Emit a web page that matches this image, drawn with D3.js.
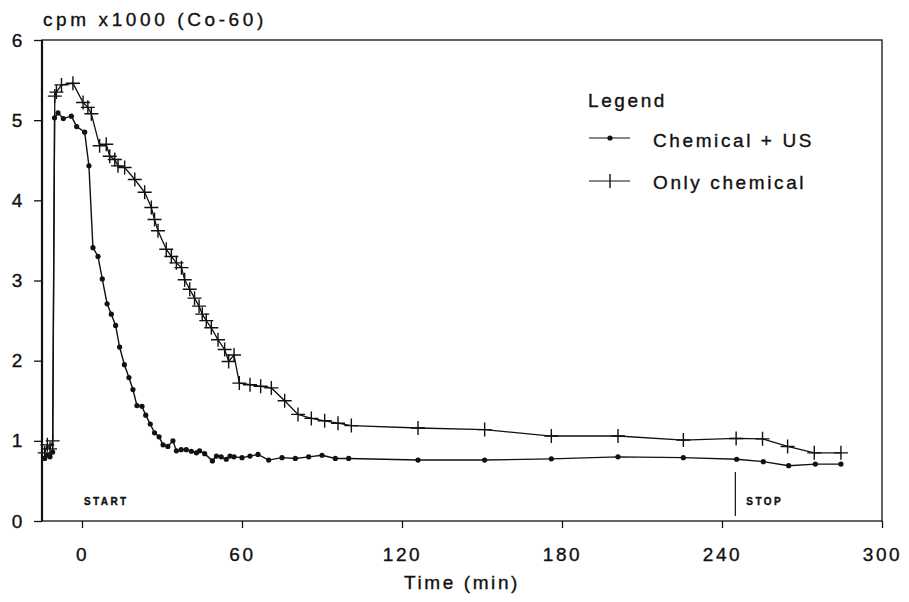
<!DOCTYPE html>
<html>
<head>
<meta charset="utf-8">
<script src="https://cdn.jsdelivr.net/npm/d3@7"></script>
<style>
  body { margin: 0; background: #fff; }
  svg text { font-family: "Liberation Sans", Arial, sans-serif; fill: #111; stroke: #111; stroke-width: 0.35px; }
</style>
</head>
<body>
<svg width="909" height="602"></svg>
<script>
// chemical + ultrasound (dots)
var timeUS = [-14, -13, -12, -11, -10.3, -9, -7, -4, -2, 1, 2.6, 4.1, 6, 7.6, 9.4, 11, 12.6, 14.1, 15.9, 17.6,
  19.1, 20.6, 22.5, 23.9, 25.6, 27.2, 28.9, 30.4, 32.2, 34.1, 35.4, 37.2, 39.1, 41, 42.9, 44.1, 46, 48.9, 50.4,
  52.2, 54.1, 55.5, 57, 60, 63, 66, 70, 75, 80, 85, 90, 95, 100, 126, 151, 176, 201, 225.5, 245.5, 255.5, 265,
  275, 284.6];
var cpmUS = [0.78, 0.82, 0.80, 0.86, 5.03, 5.09, 5.02, 5.05, 4.92, 4.85, 4.43, 3.41, 3.30, 3.02, 2.71, 2.58, 2.44,
  2.17, 1.95, 1.79, 1.64, 1.44, 1.43, 1.32, 1.21, 1.10, 1.05, 0.95, 0.93, 1.0, 0.875, 0.89, 0.89, 0.87, 0.85,
  0.875, 0.84, 0.75, 0.81, 0.80, 0.77, 0.81, 0.80, 0.79, 0.81, 0.83, 0.76, 0.79, 0.78, 0.80, 0.82, 0.78, 0.78,
  0.76, 0.76, 0.775, 0.80, 0.79, 0.77, 0.74, 0.69, 0.71, 0.71];

// only chemical (plus marks)
var timeChem = [-14, -13, -12, -11, -10.2, -9.6, -7.7, -3.4, 0.4, 2.2, 3.5, 6.6, 9.1, 10.4, 12.3, 13.5, 16, 19.8,
  23.5, 26, 27.2, 28.5, 31.6, 33.5, 35.4, 37.3, 38.5, 40.4, 42.2, 43.9, 45.1, 46.6, 48.5, 51, 53.5, 55, 57, 59,
  63, 67, 71, 76, 81, 86, 91, 96, 101, 126, 151, 176, 201, 225.5, 245.3, 255.2, 264.6, 274.6, 284.6];
var cpmChem = [0.85, 0.95, 0.90, 1.0, 5.30, 5.35, 5.44, 5.46, 5.22, 5.16, 5.08, 4.68, 4.70, 4.55, 4.51, 4.43, 4.41,
  4.26, 4.10, 3.91, 3.76, 3.62, 3.39, 3.30, 3.22, 3.16, 3.01, 2.89, 2.78, 2.68, 2.58, 2.50, 2.41, 2.26, 2.14,
  1.99, 2.07, 1.72, 1.70, 1.68, 1.66, 1.50, 1.33, 1.28, 1.25, 1.22, 1.19, 1.16, 1.14, 1.06, 1.06, 1.01, 1.03,
  1.025, 0.93, 0.85, 0.85];

var xTicks = [0, 60, 120, 180, 240, 300];
var yTicks = [0, 1, 2, 3, 4, 5, 6];
var seriesNames = ['Chemical + US', 'Only chemical'];
var stopTime = 245;

var svg = d3.select('svg');
var x = d3.scaleLinear().domain([-15, 300]).range([42, 882]);
var y = d3.scaleLinear().domain([0, 6]).range([521, 40]);

// axes
svg.append('g')
  .attr('transform', 'translate(42,0)')
  .call(d3.axisLeft(y).tickValues(yTicks).tickFormat(d3.format('d')).tickSize(8).tickPadding(9));
svg.append('g')
  .attr('transform', 'translate(0,521)')
  .call(d3.axisBottom(x).tickValues(xTicks).tickFormat(d3.format('d')).tickSize(7).tickPadding(20));
svg.selectAll('.domain').remove();
svg.selectAll('.tick line').attr('stroke', '#111').attr('stroke-width', 1.3);
svg.selectAll('.tick text')
  .style('font-size', '19px')
  .style('letter-spacing', '2.6px')
  .attr('fill', '#111');

// frame
svg.append('rect')
  .attr('x', x(-15)).attr('y', y(6))
  .attr('width', x(300) - x(-15)).attr('height', y(0) - y(6))
  .attr('fill', 'none').attr('stroke', '#111').attr('stroke-width', 1.3);
svg.append('line')
  .attr('x1', x(-15)).attr('x2', x(-15)).attr('y1', y(6)).attr('y2', y(0))
  .attr('stroke', '#111').attr('stroke-width', 2.2);

// titles
svg.append('text').attr('x', 43).attr('y', 26)
  .style('font-size', '19px').style('letter-spacing', '3.6px')
  .text('cpm x1000 (Co-60)');
svg.append('text').attr('x', 462).attr('y', 589).attr('text-anchor', 'middle')
  .style('font-size', '19px').style('letter-spacing', '2.6px')
  .text('Time (min)');

// start / stop
svg.append('text').attr('x', 84).attr('y', 505)
  .style('font-size', '10px').style('font-weight', 'bold').style('letter-spacing', '2.4px')
  .text('START');
svg.append('line')
  .attr('x1', x(stopTime)).attr('x2', x(stopTime)).attr('y1', 472).attr('y2', 516)
  .attr('stroke', '#111').attr('stroke-width', 1.2);
svg.append('text').attr('x', x(stopTime) + 11).attr('y', 505)
  .style('font-size', '10px').style('font-weight', 'bold').style('letter-spacing', '2.4px')
  .text('STOP');

var line = d3.line()
  .x(function(d) { return x(d.t); })
  .y(function(d) { return y(d.v); });

var usData = timeUS.map(function(t, i) { return { t: t, v: cpmUS[i] }; });
var chemData = timeChem.map(function(t, i) { return { t: t, v: cpmChem[i] }; });

svg.append('path').datum(chemData)
  .attr('d', line).attr('fill', 'none').attr('stroke', '#111').attr('stroke-width', 1.3);
svg.append('path').datum(usData)
  .attr('d', line).attr('fill', 'none').attr('stroke', '#111').attr('stroke-width', 1.4);

// plus marks
var plus = function (sel, px, py) {
  sel.append('path')
    .attr('d', 'M' + (px - 7) + ',' + py + 'H' + (px + 7) + 'M' + px + ',' + (py - 7) + 'V' + (py + 7))
    .attr('stroke', '#111').attr('stroke-width', 1.4).attr('fill', 'none');
};
var plusG = svg.append('g');
chemData.forEach(function(d) { plus(plusG, x(d.t), y(d.v)); });

svg.append('g').selectAll('circle')
  .data(usData)
  .enter()
  .append('circle')
  .attr('cx', function(d) { return x(d.t); })
  .attr('cy', function(d) { return y(d.v); })
  .attr('r', 2.6)
  .attr('fill', '#111');

// legend
svg.append('text').attr('x', 588).attr('y', 107)
  .style('font-size', '19px').style('letter-spacing', '2.6px').text('Legend');
svg.append('line').attr('x1', 589).attr('x2', 630).attr('y1', 138).attr('y2', 138)
  .attr('stroke', '#111').attr('stroke-width', 1.2);
svg.append('circle').attr('cx', 610).attr('cy', 138).attr('r', 2.6).attr('fill', '#111');
svg.append('text').attr('x', 653).attr('y', 147)
  .style('font-size', '19px').style('letter-spacing', '2.6px').text(seriesNames[0]);
svg.append('line').attr('x1', 589).attr('x2', 630).attr('y1', 181).attr('y2', 181)
  .attr('stroke', '#111').attr('stroke-width', 1.2);
svg.append('path').attr('d', 'M610,174V188')
  .attr('stroke', '#111').attr('stroke-width', 1.4);
svg.append('text').attr('x', 653).attr('y', 189)
  .style('font-size', '19px').style('letter-spacing', '2.6px').text(seriesNames[1]);
</script>
</body>
</html>
